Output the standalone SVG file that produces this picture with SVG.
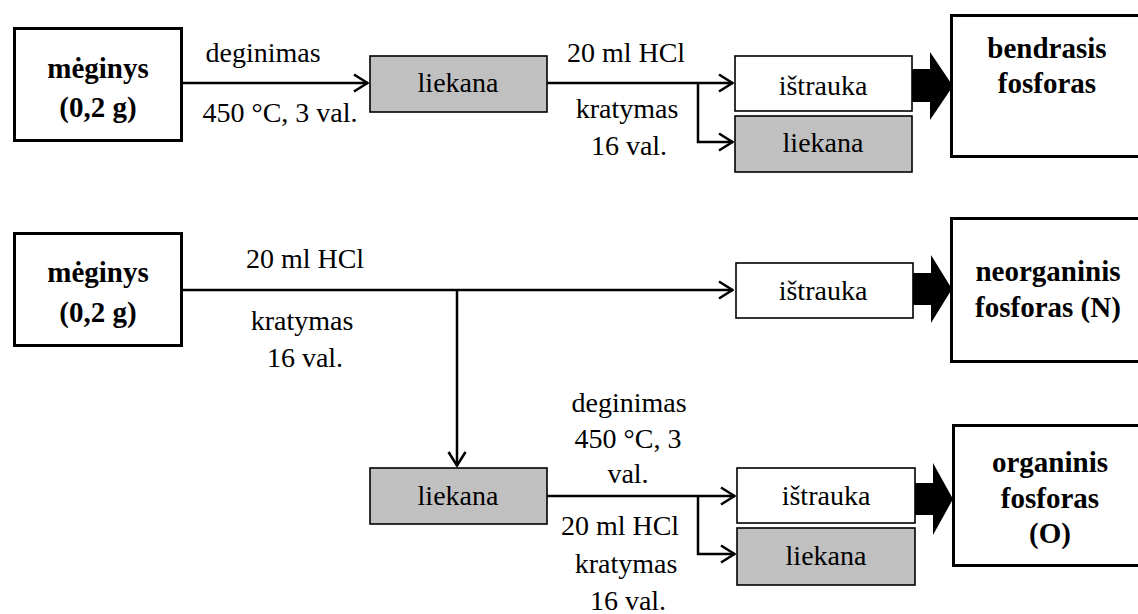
<svg xmlns="http://www.w3.org/2000/svg" width="1138" height="614" viewBox="0 0 1138 614">
<style>
.big{fill:#fff;stroke:#000;stroke-width:3}
.wbox{fill:#fff;stroke:#000;stroke-width:1.6}
.gbox{fill:#c0c0c0;stroke:#000;stroke-width:1.6}
text{font-family:'Liberation Serif','DejaVu Serif',serif;fill:#000;text-anchor:middle}
.t{font-size:28px}
.b{font-size:29px;font-weight:bold}
.ln{fill:none;stroke:#000;stroke-width:2.5}
.fat{fill:#000;stroke:none}
</style>
<defs>
<marker id="ah" markerUnits="userSpaceOnUse" viewBox="0 0 16 20" markerWidth="16" markerHeight="20" refX="15" refY="10" orient="auto">
<path d="M1,1.5 L14.5,10 L1,18.5" fill="none" stroke="#000" stroke-width="2.6"/>
</marker>
</defs>

<g id="connectors">
<path class="ln" d="M183,83 H368" marker-end="url(#ah)"/>
<path class="ln" d="M547,83 H733" marker-end="url(#ah)"/>
<path class="ln" d="M698,83 V142 H733" marker-end="url(#ah)"/>
<polygon class="fat" points="912,69 930,69 930,52 953,86 930,120 930,102 912,102"/>
<path class="ln" d="M183,290 H733" marker-end="url(#ah)"/>
<path class="ln" d="M457,290 V466" marker-end="url(#ah)"/>
<polygon class="fat" points="912,273 931,273 931,255 952,289 931,323 931,305 912,305"/>
<path class="ln" d="M547,496 H735" marker-end="url(#ah)"/>
<path class="ln" d="M698,496 V554 H735" marker-end="url(#ah)"/>
<polygon class="fat" points="915,483 933,483 933,463 953,499 933,535 933,515 915,515"/>
</g>

<g id="labels">
<text class="t" x="263" y="62">deginimas</text>
<text class="t" x="280" y="122">450 °C, 3 val.</text>
<text class="t" x="626" y="62">20 ml HCl</text>
<text class="t" x="627" y="118">kratymas</text>
<text class="t" x="629" y="155">16 val.</text>
<text class="t" x="305" y="268">20 ml HCl</text>
<text class="t" x="302" y="330">kratymas</text>
<text class="t" x="305" y="367">16 val.</text>
<text class="t" x="629" y="412">deginimas</text>
<text class="t" x="628" y="448">450 °C, 3</text>
<text class="t" x="628" y="483">val.</text>
<text class="t" x="620" y="535">20 ml HCl</text>
<text class="t" x="626" y="573">kratymas</text>
<text class="t" x="628" y="610">16 val.</text>
</g>

<g id="meginys1">
<rect class="big" x="14.5" y="28.5" width="167" height="112"/>
<text class="b" x="98" y="78">mėginys</text>
<text class="b" x="98" y="117">(0,2 g)</text>
</g>
<g id="liekana1">
<rect class="gbox" x="370" y="56" width="177" height="56"/>
<text class="t" x="458" y="92">liekana</text>
</g>
<g id="istrauka1">
<rect class="wbox" x="735" y="56" width="177" height="55"/>
<text class="t" x="823" y="95">ištrauka</text>
</g>
<g id="liekana2">
<rect class="gbox" x="735" y="116" width="177" height="56"/>
<text class="t" x="823" y="152">liekana</text>
</g>
<g id="bendrasis">
<rect class="big" x="951.5" y="15.5" width="200" height="141"/>
<text class="b" x="1047" y="58">bendrasis</text>
<text class="b" x="1047" y="93">fosforas</text>
</g>

<g id="meginys2">
<rect class="big" x="14.5" y="233.5" width="167" height="112"/>
<text class="b" x="98" y="282">mėginys</text>
<text class="b" x="98" y="322">(0,2 g)</text>
</g>
<g id="istrauka2">
<rect class="wbox" x="736" y="263" width="177" height="55"/>
<text class="t" x="823" y="300">ištrauka</text>
</g>
<g id="neorganinis">
<rect class="big" x="951.5" y="218.5" width="200" height="143"/>
<text class="b" x="1048" y="281">neorganinis</text>
<text class="b" x="1048" y="317">fosforas (N)</text>
</g>

<g id="liekana3">
<rect class="gbox" x="370" y="468" width="177" height="56"/>
<text class="t" x="458" y="505">liekana</text>
</g>
<g id="istrauka3">
<rect class="wbox" x="737" y="468" width="178" height="55"/>
<text class="t" x="826" y="505">ištrauka</text>
</g>
<g id="liekana4">
<rect class="gbox" x="737" y="528" width="178" height="57"/>
<text class="t" x="826" y="565">liekana</text>
</g>
<g id="organinis">
<rect class="big" x="953.5" y="425.5" width="200" height="140"/>
<text class="b" x="1050" y="472">organinis</text>
<text class="b" x="1050" y="508">fosforas</text>
<text class="b" x="1050" y="543">(O)</text>
</g>
</svg>
